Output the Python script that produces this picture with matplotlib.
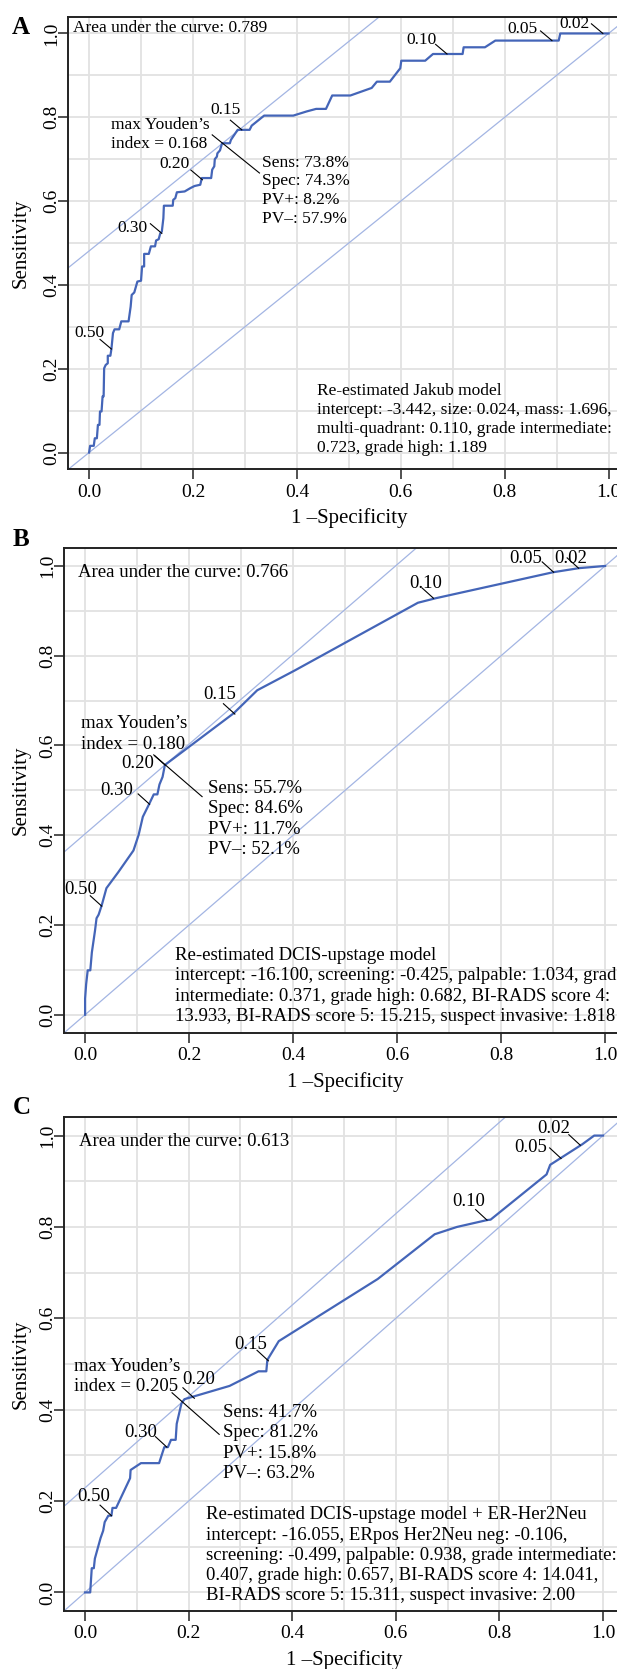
import matplotlib.pyplot as plt
from matplotlib.ticker import MultipleLocator

plt.rcParams['font.family'] = ['Liberation Serif', 'DejaVu Serif']

# ---- panel A: re-estimated Jakub model (1 - specificity, sensitivity) ----
a_fpr = [0, 0.002, 0.009, 0.011, 0.015, 0.017, 0.020, 0.021, 0.024, 0.026, 0.028, 0.029,
         0.032, 0.036, 0.036, 0.041, 0.043, 0.046, 0.049, 0.058, 0.062, 0.076, 0.080, 0.082,
         0.087, 0.093, 0.100, 0.102, 0.106, 0.106, 0.115, 0.119, 0.127, 0.129, 0.134, 0.137,
         0.140, 0.143, 0.144, 0.161, 0.162, 0.166, 0.169, 0.184, 0.195, 0.203, 0.214, 0.217,
         0.235, 0.237, 0.241, 0.242, 0.246, 0.247, 0.252, 0.256, 0.271, 0.273, 0.286, 0.309,
         0.313, 0.337, 0.393, 0.419, 0.437, 0.456, 0.468, 0.503, 0.544, 0.554, 0.579, 0.599,
         0.601, 0.647, 0.662, 0.719, 0.721, 0.762, 0.782, 0.886, 0.904, 0.907, 1.0]
a_tpr = [0, 0.016, 0.016, 0.034, 0.034, 0.066, 0.066, 0.098, 0.098, 0.134, 0.134, 0.201,
         0.209, 0.213, 0.231, 0.231, 0.247, 0.285, 0.294, 0.294, 0.313, 0.313, 0.348, 0.376,
         0.382, 0.408, 0.410, 0.444, 0.444, 0.474, 0.474, 0.492, 0.492, 0.506, 0.509, 0.523,
         0.527, 0.559, 0.589, 0.589, 0.603, 0.607, 0.621, 0.623, 0.631, 0.636, 0.639, 0.655,
         0.655, 0.675, 0.683, 0.700, 0.706, 0.714, 0.721, 0.738, 0.738, 0.746, 0.770, 0.770,
         0.780, 0.804, 0.804, 0.814, 0.820, 0.820, 0.852, 0.852, 0.870, 0.885, 0.885, 0.917,
         0.935, 0.935, 0.951, 0.951, 0.967, 0.967, 0.983, 0.983, 0.983, 1.0, 1.0]

# ---- panel B: re-estimated DCIS-upstage model ----
b_fpr = [0, 0, 0.002, 0.005, 0.010, 0.013, 0.019, 0.022, 0.026, 0.032, 0.041, 0.064, 0.093,
         0.103, 0.111, 0.123, 0.132, 0.139, 0.143, 0.149, 0.153, 0.154, 0.286, 0.331, 0.403,
         0.640, 0.674, 0.900, 0.949, 1.0]
b_tpr = [0, 0.036, 0.068, 0.099, 0.099, 0.139, 0.187, 0.215, 0.223, 0.244, 0.282, 0.318, 0.366,
         0.401, 0.441, 0.469, 0.491, 0.491, 0.513, 0.530, 0.554, 0.557, 0.672, 0.723, 0.767,
         0.918, 0.928, 0.986, 0.995, 1.0]

# ---- panel C: re-estimated DCIS-upstage model + ER-Her2Neu ----
c_fpr = [0, 0.010, 0.013, 0.017, 0.019, 0.030, 0.035, 0.038, 0.045, 0.051, 0.053, 0.060, 0.087,
         0.088, 0.108, 0.143, 0.153, 0.160, 0.166, 0.175, 0.177, 0.186, 0.188, 0.192, 0.279,
         0.335, 0.350, 0.352, 0.374, 0.565, 0.675, 0.718, 0.776, 0.783, 0.891, 0.898, 0.960,
         0.983, 1.0]
c_tpr = [0, 0, 0.053, 0.053, 0.074, 0.119, 0.135, 0.154, 0.168, 0.168, 0.185, 0.185, 0.250,
         0.268, 0.283, 0.283, 0.318, 0.318, 0.334, 0.334, 0.369, 0.413, 0.417, 0.423, 0.452,
         0.484, 0.484, 0.509, 0.550, 0.686, 0.784, 0.800, 0.815, 0.816, 0.915, 0.936, 0.981,
         1.0, 1.0]

thr_labels = ['0.50', '0.30', '0.20', '0.15', '0.10', '0.05', '0.02']
a_thr_fpr = [0.043, 0.140, 0.218, 0.294, 0.689, 0.891, 0.989]
a_thr_tpr = [0.247, 0.523, 0.651, 0.770, 0.951, 0.983, 1.000]
b_thr_fpr = [0.032, 0.124, 0.154, 0.288, 0.670, 0.901, 0.949]
b_thr_tpr = [0.242, 0.469, 0.556, 0.670, 0.928, 0.986, 0.995]
c_thr_fpr = [0.051, 0.158, 0.211, 0.354, 0.776, 0.919, 0.956]
c_thr_tpr = [0.168, 0.318, 0.425, 0.507, 0.815, 0.950, 0.979]

auc_values = [0.789, 0.766, 0.613]
youden_thr = [0.168, 0.180, 0.205]
best_fpr = [0.257, 0.154, 0.188]
best_tpr = [0.738, 0.557, 0.417]
sens = [73.8, 55.7, 41.7]
spec = [74.3, 84.6, 81.2]
ppv = [8.2, 11.7, 15.8]
npv = [57.9, 52.1, 63.2]

model_a = ["Re-estimated Jakub model",
           "intercept: -3.442, size: 0.024, mass: 1.696,",
           "multi-quadrant: 0.110, grade intermediate:",
           "0.723, grade high: 1.189"]
model_b = ["Re-estimated DCIS-upstage model",
           "intercept: -16.100, screening: -0.425, palpable: 1.034, grade",
           "intermediate: 0.371, grade high: 0.682, BI-RADS score 4:",
           "13.933, BI-RADS score 5: 15.215, suspect invasive: 1.818"]
model_c = ["Re-estimated DCIS-upstage model + ER-Her2Neu",
           "intercept: -16.055, ERpos Her2Neu neg: -0.106,",
           "screening: -0.499, palpable: 0.938, grade intermediate:",
           "0.407, grade high: 0.657, BI-RADS score 4: 14.041,",
           "BI-RADS score 5: 15.311, suspect invasive: 2.00"]

# ---- layout (pixels of the 617x1669 figure) ----
W, H = 617, 1669
# left, top, bottom, px per x unit
boxes = [(68.3, 16.7, 469.3, 519.5), (64.3, 548.0, 1032.7, 520.0), (64.3, 1117.3, 1610.7, 518.0)]
letters = [('A', 21, 28), ('B', 21, 540), ('C', 22, 1108)]
# label text offsets from the threshold point (data units)
thr_offsets = [
    [(-0.042, 0.039), (-0.057, 0.012), (-0.053, 0.037), (-0.032, 0.048), (-0.050, 0.034), (-0.056, 0.027), (-0.054, 0.023)],
    [(-0.040, 0.036), (-0.063, 0.030), (-0.053, 0.004), (-0.030, 0.044), (-0.015, 0.034), (-0.054, 0.031), (-0.015, 0.022)],
    [(-0.034, 0.041), (-0.051, 0.033), (0.009, 0.040), (-0.034, 0.035), (-0.036, 0.041), (-0.059, 0.023), (-0.052, 0.037)],
]
auc_pos = [(-0.030, 1.013), (-0.013, 0.985), (-0.011, 0.987)]
youden_pos = [(0.043, 0.782), (-0.008, 0.648), (-0.022, 0.495)]
stats_pos = [(0.332, 0.692), (0.237, 0.505), (0.267, 0.394)]
model_pos = [(0.439, 0.146), (0.173, 0.133), (0.233, 0.170)]
line_step = [18.9, 20.5, 20.3]
txt_sizes = [12.5, 13.5, 13.5]

curve_col = '#4465b8'
diag_col = '#a3b5e3'
grid_col = '#e2e2e2'

fig = plt.figure(figsize=(W / 100, H / 100), dpi=100)

panels = [(a_fpr, a_tpr, a_thr_fpr, a_thr_tpr, model_a),
          (b_fpr, b_tpr, b_thr_fpr, b_thr_tpr, model_b),
          (c_fpr, c_tpr, c_thr_fpr, c_thr_tpr, model_c)]


def block(ax, x, y, lines, step, size):
    for i, s in enumerate(lines):
        ax.annotate(s, (x, y), xytext=(0, -i * step * 0.72), textcoords='offset points',
                    ha='left', va='center', fontsize=size, annotation_clip=False)


for k, (fpr, tpr, tfpr, ttpr, model) in enumerate(panels):
    left, top, bot, pxu = boxes[k]
    width = 1.08 * pxu
    fs = txt_sizes[k]
    ax = fig.add_axes([left / W, 1 - bot / H, width / W, (bot - top) / H])
    ax.set_xlim(-0.04, 1.04)
    ax.set_ylim(-0.04, 1.04)

    ax.xaxis.set_major_locator(MultipleLocator(0.2))
    ax.yaxis.set_major_locator(MultipleLocator(0.2))
    ax.xaxis.set_minor_locator(MultipleLocator(0.1))
    ax.yaxis.set_minor_locator(MultipleLocator(0.1))
    ax.grid(True, which='both', color=grid_col, lw=1.3, zorder=0)
    ax.set_axisbelow(True)
    ax.xaxis.set_major_formatter(plt.FuncFormatter(lambda v, p: f'{v:.1f}'))
    ax.yaxis.set_major_formatter(plt.FuncFormatter(lambda v, p: f'{v:.1f}'))
    ax.tick_params(which='major', length=7.5, width=1.1, labelsize=14, color='#222222')
    ax.tick_params(which='minor', length=0)
    ax.tick_params(axis='x', pad=3.0)
    ax.tick_params(axis='y', pad=-2.0, labelrotation=90)
    plt.setp(ax.get_yticklabels(), va='center')
    for sp in ax.spines.values():
        sp.set_linewidth(1.4)
        sp.set_color('#222222')

    ax.set_xlabel('1 \u2013Specificity', fontsize=15)
    ax.set_ylabel('Sensitivity', fontsize=15)
    ax.xaxis.set_label_coords(0.5, -39 / (bot - top))
    ax.yaxis.set_label_coords((31 - left) / width, 0.5)

    # chance line and Youden line through the optimal cut-off
    ax.axline((0, 0), slope=1, color=diag_col, lw=0.9, zorder=1)
    j = best_tpr[k] - best_fpr[k]
    ax.axline((0, j), slope=1, color=diag_col, lw=0.9, zorder=1)

    ax.plot(fpr, tpr, color=curve_col, lw=1.6, zorder=3)

    # threshold labels with short leaders
    for lab, px, py, (dx, dy) in zip(thr_labels, tfpr, ttpr, thr_offsets[k]):
        ax.plot([px - 0.022, px], [py + 0.023, py], color='black', lw=0.8, zorder=4)
        ax.text(px + dx, py + dy, lab, ha='center', va='center', fontsize=fs, zorder=5)

    bx, by = best_fpr[k], best_tpr[k]
    ax.plot([bx - 0.02, bx + 0.071], [by + 0.02, by - 0.071], color='black', lw=0.8, zorder=4)

    ax.text(auc_pos[k][0], auc_pos[k][1], f'Area under the curve: {auc_values[k]:.3f}',
            ha='left', va='center', fontsize=fs)
    block(ax, youden_pos[k][0], youden_pos[k][1],
          ['max Youden\u2019s', f'index = {youden_thr[k]:.3f}'], line_step[k], fs)
    block(ax, stats_pos[k][0], stats_pos[k][1],
          [f'Sens: {sens[k]:.1f}%', f'Spec: {spec[k]:.1f}%',
           f'PV+: {ppv[k]:.1f}%', f'PV\u2013: {npv[k]:.1f}%'], line_step[k], fs)
    block(ax, model_pos[k][0], model_pos[k][1], model, line_step[k], fs)

    lt, lx, ly = letters[k]
    fig.text(lx / W, 1 - ly / H, lt, ha='center', va='center', fontsize=18, fontweight='bold')

fig.savefig('out.png', dpi=100)
